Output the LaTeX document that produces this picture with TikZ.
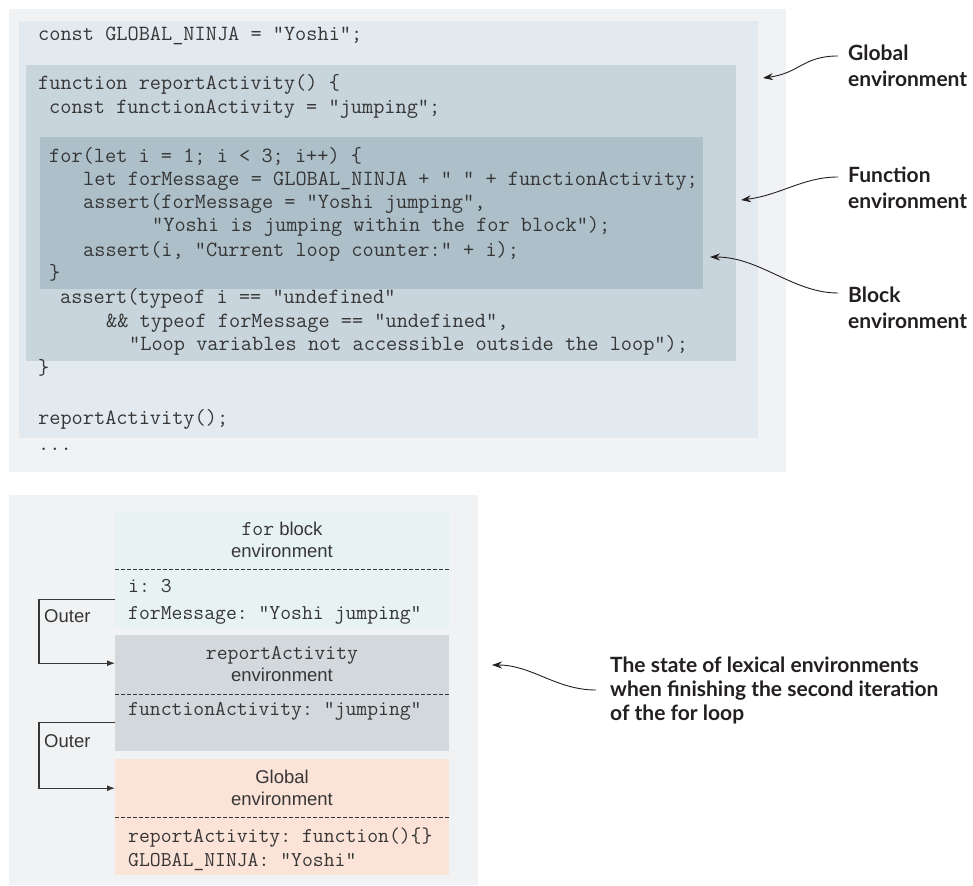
\documentclass[tikz,border=0pt]{standalone}
\usepackage{fontspec}
\setmainfont{Liberation Sans}
\setsansfont{Liberation Sans}
\newfontfamily\notefont{Lato}
\usepackage{tikz}
\usetikzlibrary{arrows.meta, positioning}
\definecolor{panelgray}{HTML}{F0F2F4}
\definecolor{globfill}{HTML}{E2EAF0}
\definecolor{funcfill}{HTML}{C8D5DD}
\definecolor{blockfill}{HTML}{ADC0CA}
\definecolor{forfill}{HTML}{E7F3F2}
\definecolor{reportfill}{HTML}{D3D8DD}
\definecolor{globalfill}{HTML}{FCE3D8}
\definecolor{codegray}{HTML}{363636}
\definecolor{notedark}{HTML}{231F20}
\frenchspacing

\tikzset{
  codeline/.style={anchor=base west, inner sep=0pt, text=codegray,
    font=\ttfamily\fontsize{21.7}{23}\selectfont},
  envbox/.style={anchor=north west, inner sep=0pt, minimum width=334pt},
  envtitle/.style={inner sep=0pt, align=center, text=codegray,
    font=\sffamily\fontsize{18.5}{22.5}\selectfont},
  envvar/.style={anchor=base west, inner sep=0pt, text=codegray,
    font=\ttfamily\fontsize{21.1}{22}\selectfont},
  divider/.style={draw=codegray, line width=1pt, dash pattern=on 4pt off 2pt},
  outerlink/.style={draw=codegray, line width=1.1pt, -{Latex[length=8pt,width=6pt]}},
  outertag/.style={anchor=base west, inner sep=0pt, text=codegray,
    font=\sffamily\fontsize{18.5}{22}\selectfont},
  notelabel/.style={anchor=west, inner sep=0pt, align=left, text=notedark,
    font=\notefont\bfseries\fontsize{21}{26}\selectfont},
  notearrow/.style={draw=notedark, line width=0.9pt, -{Stealth[length=10pt,width=7pt]}},
}

\begin{document}
\begin{tikzpicture}[x=1pt, y=-1pt]
  \useasboundingbox (0,0) rectangle (973,885);

  % code listing, nested environments
  \fill[panelgray] (9,9) rectangle (786,472);
  \fill[globfill] (19,21) rectangle (758,438);
  \fill[funcfill] (26,65) rectangle (736,361);
  \fill[blockfill] (40,137) rectangle (703,289);

  \node[codeline] (c1) at (38,41) {const GLOBAL\_NINJA = "Yoshi";};
  \node[codeline] (c2) at (38,90) {function reportActivity() \{};
  \node[codeline] (c3) at (49,114) {const functionActivity = "jumping";};
  \node[codeline] (c4) at (49,163) {for(let i = 1; i < 3; i++) \{};
  \node[codeline] (c5) at (83,186) {let forMessage = GLOBAL\_NINJA + " " + functionActivity;};
  \node[codeline] (c6) at (83,209) {assert(forMessage = "Yoshi jumping",};
  \node[codeline] (c7) at (152,232) {"Yoshi is jumping within the for block");};
  \node[codeline] (c8) at (83,256) {assert(i, "Current loop counter:" + i);};
  \node[codeline] (c9) at (49,279) {\}};
  \node[codeline] (c10) at (60,303) {assert(typeof i == "undefined"};
  \node[codeline] (c11) at (106,327) {\&\& typeof forMessage == "undefined",};
  \node[codeline] (c12) at (129,350) {"Loop variables not accessible outside the loop");};
  \node[codeline] (c13) at (38,374) {\}};
  \node[codeline] (c14) at (38,424) {reportActivity();};
  \node[codeline] (c15) at (38,450) {...};

  % callouts on the right
  \node[notelabel] (globnote) at (848,66) {Global\\environment};
  \node[notelabel] (funcnote) at (848,188) {Function\\environment};
  \node[notelabel] (blocknote) at (848,308) {Block\\environment};
  \coordinate (globtip) at (763,78);
  \coordinate (functip) at (741,200);
  \coordinate (blocktip) at (710,257);
  \draw[notearrow] ([xshift=-10pt,yshift=10pt]globnote.west) .. controls +(-35,0) and +(37,-5) .. (globtip);
  \draw[notearrow] ([xshift=-10pt,yshift=11pt]funcnote.west) .. controls +(-35,0) and +(40,-5) .. (functip);
  \draw[notearrow] ([xshift=-10pt,yshift=15pt]blocknote.west) .. controls +(-45,0) and +(50,0) .. (blocktip);

  % lexical environments
  \fill[panelgray] (9,495) rectangle (478,885);
  \node[envbox, fill=forfill, minimum height=116pt] (forenv) at (115,511) {};
  \node[envbox, fill=reportfill, minimum height=116pt] (reportenv) at (115,635) {};
  \node[envbox, fill=globalfill, minimum height=116pt] (globalenv) at (115,759) {};

  \node[envtitle] (fortitle) at (282,540) {{\ttfamily\fontsize{21.1}{22}\selectfont for} block\\environment};
  \node[envtitle] (reporttitle) at (282,664) {{\ttfamily\fontsize{21.1}{22}\selectfont reportActivity}\\environment};
  \node[envtitle] (globaltitle) at (282,788) {Global\\environment};
  \draw[divider] (forenv.west |- 0,569) -- (forenv.east |- 0,569);
  \draw[divider] (reportenv.west |- 0,694) -- (reportenv.east |- 0,694);
  \draw[divider] (globalenv.west |- 0,817) -- (globalenv.east |- 0,817);

  \node[envvar] (vari) at (128,592) {i: 3};
  \node[envvar] (varmsg) at (128,619) {forMessage: "Yoshi jumping"};
  \node[envvar] (varact) at (128,715) {functionActivity: "jumping"};
  \node[envvar] (varfun) at (128,842) {reportActivity: function()\{\}};
  \node[envvar] (varninja) at (128,866) {GLOBAL\_NINJA: "Yoshi"};

  \draw[outerlink] ([yshift=-30pt]forenv.west) -- ++(-76,0) |- ([yshift=30pt]reportenv.west);
  \draw[outerlink] ([yshift=-29pt]reportenv.west) -- ++(-76,0) |- ([yshift=29pt]globalenv.west);
  \node[outertag] (outer1) at (44,622) {Outer};
  \node[outertag] (outer2) at (44,747) {Outer};

  \node[notelabel, font=\notefont\bfseries\fontsize{21}{24}\selectfont] (statenote) at (610,690)
    {The state of lexical environments\\when finishing the second iteration\\of the for loop};
  \coordinate (statetip) at (492,665);
  \draw[notearrow] ([xshift=-14pt]statenote.west) .. controls +(-40,0) and +(40,0) .. (statetip);
\end{tikzpicture}
\end{document}
